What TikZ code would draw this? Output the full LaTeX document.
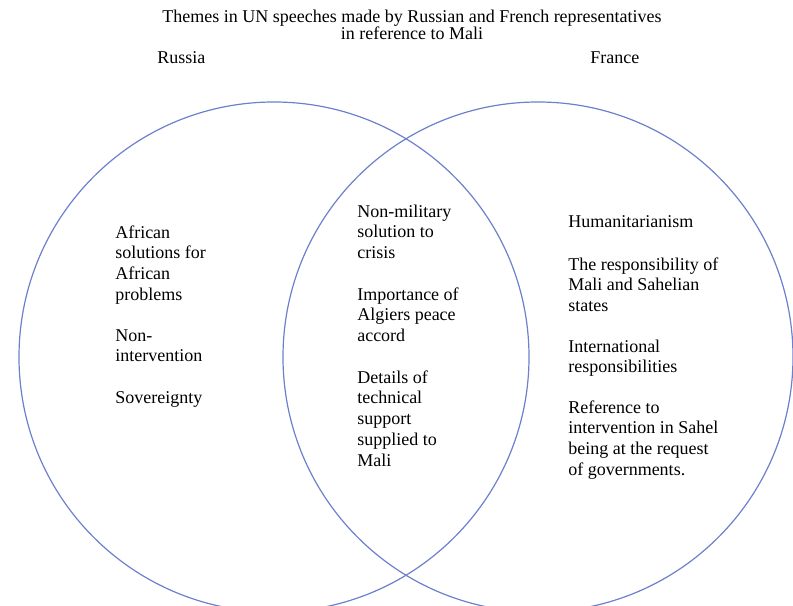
\documentclass[tikz,border=0pt]{standalone}
\usepackage{fontspec}
\setmainfont{Liberation Serif}
\usepackage{tikz}

\begin{document}
\begin{tikzpicture}[x=0.75pt,y=0.75pt,yscale=-1,xscale=1,
  venn/.style={draw={rgb, 255:red, 108; green, 128; blue, 204}, line width=0.9pt},
  theme/.style={anchor=base west, inner sep=0pt, align=left, font=\fontsize{13.5}{15.6}\selectfont},
  heading/.style={anchor=base, inner sep=0pt, align=center, font=\fontsize{13.5}{12.75}\selectfont}]
\useasboundingbox (0,0) rectangle (793,606);

%Shape: Circle [Russia]
\draw [venn] (274,357) circle [radius=255];
%Shape: Circle [France]
\draw [venn] (538,357) circle [radius=255];

% Text Node (placed at baseline of last line)
\node [heading] (title) at (412,40) {Themes in UN speeches made by Russian and French representatives\\in reference to Mali};
% Text Node
\node [theme] (russia) at (157,64) {Russia};
% Text Node
\node [theme] (france) at (590,64) {France};

% Text Node
\node [theme] (ruAfrican) at (115,300.4) {African\\solutions for\\African\\problems};
% Text Node
\node [theme] (ruNonInt) at (115,361.8) {Non-\\intervention};
% Text Node
\node [theme] (ruSovereign) at (115,403) {Sovereignty};

% Text Node
\node [theme] (bothNonMil) at (357,258.6) {Non-military\\solution to\\crisis};
% Text Node
\node [theme] (bothAlgiers) at (357,341.6) {Importance of\\Algiers peace\\accord};
% Text Node
\node [theme] (bothSupport) at (357,466.2) {Details of\\technical\\support\\supplied to\\Mali};

% Text Node
\node [theme] (frHuman) at (568,228) {Humanitarianism};
% Text Node
\node [theme] (frSahel) at (568,311.6) {The responsibility of\\Mali and Sahelian\\states};
% Text Node
\node [theme] (frIntl) at (568,372.8) {International\\responsibilities};
% Text Node
\node [theme] (frRequest) at (568,475.4) {Reference to\\intervention in Sahel\\being at the request\\of governments.};
\end{tikzpicture}
\end{document}
